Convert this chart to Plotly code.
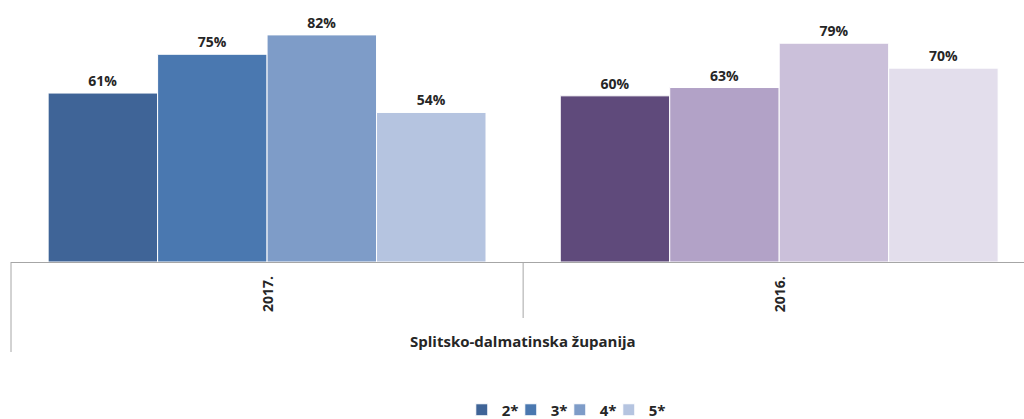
import plotly.graph_objects as go

years = ["2017.", "2016."]
series = ["2*", "3*", "4*", "5*"]
values = {
    "2*": [61, 60],
    "3*": [75, 63],
    "4*": [82, 79],
    "5*": [54, 70],
}
colors_2017 = ["#3F6497", "#4A78B0", "#7E9CC8", "#B5C4E0"]
colors_2016 = ["#5F4A7B", "#B2A2C7", "#CBC0DA", "#E3DEEC"]
region_label = "Splitsko-dalmatinska županija"

FONT = "'Open Sans', Lato, sans-serif"
TXT = "#262626"

fig = go.Figure()
for i, s in enumerate(series):
    fig.add_trace(go.Bar(
        name=f"<b>{s}</b>",
        x=years,
        y=values[s],
        marker=dict(color=[colors_2017[i], colors_2016[i]],
                    line=dict(color="white", width=1)),
        text=[f"<b>{v}%</b>" for v in values[s]],
        textposition="outside",
        textfont=dict(family=FONT, size=14, color=TXT),
        cliponaxis=False,
    ))

fig.update_layout(
    width=1024, height=419,
    margin=dict(l=11, r=0, t=0, b=157, autoexpand=False),
    paper_bgcolor="white", plot_bgcolor="white",
    barmode="group", bargap=0.145, bargroupgap=0,
    font=dict(family=FONT, color=TXT),
    showlegend=True,
    legend=dict(orientation="h", xref="paper", yref="paper",
                x=0.445, xanchor="left", y=-0.565, yanchor="middle",
                font=dict(family=FONT, size=15, color=TXT),
                entrywidth=4, entrywidthmode="pixels",
                itemwidth=30, tracegroupgap=0),
    xaxis=dict(range=[-0.5, 1.478], showticklabels=False, ticks="",
               showline=True, linecolor="#a6a6a6", linewidth=1,
               showgrid=False, zeroline=False, fixedrange=True),
    yaxis=dict(range=[0, 94.6], visible=False, showgrid=False, zeroline=False,
               fixedrange=True),
)

# category labels
for i, yr in enumerate(years):
    fig.add_annotation(x=i, y=0, xref="x", yref="paper", text=f"<b>{yr}</b>",
                       textangle=-90, showarrow=False, yanchor="middle",
                       yshift=-32, font=dict(family=FONT, size=14, color=TXT))
fig.add_annotation(x=0.5, y=0, xref="x", yref="paper", text=f"<b>{region_label}</b>",
                   showarrow=False, yanchor="middle", yshift=-79,
                   font=dict(family=FONT, size=15, color=TXT))

# axis divider lines
fig.add_shape(type="line", xref="paper", x0=0, x1=0, yref="paper",
              ysizemode="pixel", yanchor=0, y0=0, y1=-90,
              line=dict(color="#a6a6a6", width=1))
fig.add_shape(type="line", xref="x", x0=0.5, x1=0.5, yref="paper",
              ysizemode="pixel", yanchor=0, y0=0, y1=-56,
              line=dict(color="#a6a6a6", width=1))

post = (
    "document.body.style.margin='0';"
    "document.body.style.overflow='hidden';"
    "document.querySelectorAll('.legend [clip-path]').forEach(function(e){e.removeAttribute('clip-path');});"
)
fig.write_html("out.html", config={"displayModeBar": False}, post_script=post)
